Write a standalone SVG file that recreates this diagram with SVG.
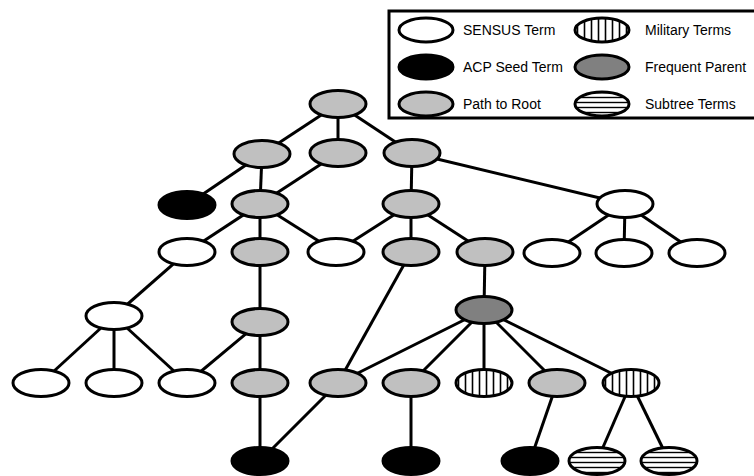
<svg xmlns="http://www.w3.org/2000/svg" width="754" height="476" viewBox="0 0 754 476">
  <defs>
    <pattern id="vhatch" patternUnits="userSpaceOnUse" width="7" height="10">
      <rect width="7" height="10" fill="#fff"/>
      <line x1="3.5" y1="0" x2="3.5" y2="10" stroke="#000" stroke-width="1.6"/>
    </pattern>
    <pattern id="hhatch" patternUnits="userSpaceOnUse" width="10" height="5">
      <rect width="10" height="5" fill="#fff"/>
      <line x1="0" y1="2.5" x2="10" y2="2.5" stroke="#000" stroke-width="1.4"/>
    </pattern>
  </defs>
  <style>
    .n ellipse { stroke: #000; stroke-width: 3; }
    .sensus { fill: #fff; }
    .seed { fill: #000; }
    .path { fill: #c0c0c0; }
    .freq { fill: #808080; }
    .mil { fill: url(#vhatch); }
    .sub { fill: url(#hhatch); }
    #edges line { stroke: #000; stroke-width: 3; }
    .lbl { font-family: "Liberation Sans", Arial, sans-serif; font-size: 14px; fill: #000; }
  </style>

  <!-- connectors, drawn beneath the nodes -->
  <g id="edges">
    <line x1="338" y1="104" x2="262" y2="154"/>
    <line x1="338" y1="104" x2="338" y2="153"/>
    <line x1="338" y1="104" x2="412" y2="153"/>
    <line x1="262" y1="154" x2="187" y2="205"/>
    <line x1="262" y1="154" x2="260" y2="204"/>
    <line x1="338" y1="153" x2="260" y2="204"/>
    <line x1="412" y1="153" x2="411" y2="204"/>
    <line x1="412" y1="153" x2="625" y2="204"/>
    <line x1="260" y1="204" x2="187" y2="252"/>
    <line x1="260" y1="204" x2="260" y2="252"/>
    <line x1="260" y1="204" x2="336" y2="252"/>
    <line x1="411" y1="204" x2="336" y2="252"/>
    <line x1="411" y1="204" x2="411" y2="252"/>
    <line x1="411" y1="204" x2="485" y2="252"/>
    <line x1="625" y1="204" x2="552" y2="253"/>
    <line x1="625" y1="204" x2="624" y2="253"/>
    <line x1="625" y1="204" x2="697" y2="253"/>
    <line x1="187" y1="252" x2="114" y2="316"/>
    <line x1="260" y1="252" x2="260" y2="322"/>
    <line x1="485" y1="252" x2="484" y2="310"/>
    <line x1="411" y1="252" x2="338" y2="383"/>
    <line x1="114" y1="316" x2="41" y2="383"/>
    <line x1="114" y1="316" x2="114" y2="383"/>
    <line x1="114" y1="316" x2="187" y2="383"/>
    <line x1="260" y1="322" x2="187" y2="383"/>
    <line x1="260" y1="322" x2="260" y2="383"/>
    <line x1="484" y1="310" x2="338" y2="383"/>
    <line x1="484" y1="310" x2="411" y2="383"/>
    <line x1="484" y1="310" x2="484" y2="383"/>
    <line x1="484" y1="310" x2="557" y2="383"/>
    <line x1="484" y1="310" x2="631" y2="383"/>
    <line x1="260" y1="383" x2="260" y2="461"/>
    <line x1="338" y1="383" x2="260" y2="461"/>
    <line x1="411" y1="383" x2="411" y2="461"/>
    <line x1="557" y1="383" x2="530" y2="461"/>
    <line x1="631" y1="383" x2="597" y2="461"/>
    <line x1="631" y1="383" x2="669" y2="461"/>
  </g>

  <!-- tree nodes -->
  <g id="root" class="n"><ellipse class="path" cx="338" cy="104" rx="28" ry="13.5"/></g>
  <g id="l1a" class="n"><ellipse class="path" cx="262" cy="154" rx="28" ry="13.5"/></g>
  <g id="l1b" class="n"><ellipse class="path" cx="338" cy="153" rx="28" ry="13.5"/></g>
  <g id="l1c" class="n"><ellipse class="path" cx="412" cy="153" rx="28" ry="13.5"/></g>
  <g id="l2a" class="n"><ellipse class="seed" cx="187" cy="205" rx="28" ry="13.5"/></g>
  <g id="l2b" class="n"><ellipse class="path" cx="260" cy="204" rx="28" ry="13.5"/></g>
  <g id="l2c" class="n"><ellipse class="path" cx="411" cy="204" rx="28" ry="13.5"/></g>
  <g id="l2d" class="n"><ellipse class="sensus" cx="625" cy="204" rx="28" ry="13.5"/></g>
  <g id="l3a" class="n"><ellipse class="sensus" cx="187" cy="252" rx="28" ry="13.5"/></g>
  <g id="l3b" class="n"><ellipse class="path" cx="260" cy="252" rx="28" ry="13.5"/></g>
  <g id="l3c" class="n"><ellipse class="sensus" cx="336" cy="252" rx="28" ry="13.5"/></g>
  <g id="l3d" class="n"><ellipse class="path" cx="411" cy="252" rx="28" ry="13.5"/></g>
  <g id="l3e" class="n"><ellipse class="path" cx="485" cy="252" rx="28" ry="13.5"/></g>
  <g id="l3f" class="n"><ellipse class="sensus" cx="552" cy="253" rx="28" ry="13.5"/></g>
  <g id="l3g" class="n"><ellipse class="sensus" cx="624" cy="253" rx="28" ry="13.5"/></g>
  <g id="l3h" class="n"><ellipse class="sensus" cx="697" cy="253" rx="28" ry="13.5"/></g>
  <g id="l4a" class="n"><ellipse class="sensus" cx="114" cy="316" rx="28" ry="13.5"/></g>
  <g id="l4b" class="n"><ellipse class="path" cx="260" cy="322" rx="28" ry="13.5"/></g>
  <g id="l4c" class="n"><ellipse class="freq" cx="484" cy="310" rx="28" ry="13.5"/></g>
  <g id="l5a" class="n"><ellipse class="sensus" cx="41" cy="383" rx="28" ry="13.5"/></g>
  <g id="l5b" class="n"><ellipse class="sensus" cx="114" cy="383" rx="28" ry="13.5"/></g>
  <g id="l5c" class="n"><ellipse class="sensus" cx="187" cy="383" rx="28" ry="13.5"/></g>
  <g id="l5d" class="n"><ellipse class="path" cx="260" cy="383" rx="28" ry="13.5"/></g>
  <g id="l5e" class="n"><ellipse class="path" cx="338" cy="383" rx="28" ry="13.5"/></g>
  <g id="l5f" class="n"><ellipse class="path" cx="411" cy="383" rx="28" ry="13.5"/></g>
  <g id="l5g" class="n"><ellipse class="mil" cx="484" cy="383" rx="28" ry="13.5"/></g>
  <g id="l5h" class="n"><ellipse class="path" cx="557" cy="383" rx="28" ry="13.5"/></g>
  <g id="l5i" class="n"><ellipse class="mil" cx="631" cy="383" rx="28" ry="13.5"/></g>
  <g id="l6a" class="n"><ellipse class="seed" cx="260" cy="461" rx="28" ry="13.5"/></g>
  <g id="l6b" class="n"><ellipse class="seed" cx="411" cy="461" rx="28" ry="13.5"/></g>
  <g id="l6c" class="n"><ellipse class="seed" cx="530" cy="461" rx="28" ry="13.5"/></g>
  <g id="l6d" class="n"><ellipse class="sub" cx="597" cy="461" rx="28" ry="13.5"/></g>
  <g id="l6e" class="n"><ellipse class="sub" cx="669" cy="461" rx="28" ry="13.5"/></g>

  <!-- legend -->
  <g id="legend">
    <rect x="389" y="11" width="368" height="107" fill="#fff" stroke="#000" stroke-width="3"/>
    <g class="n">
      <ellipse class="sensus" cx="426" cy="30" rx="27" ry="12"/>
      <ellipse class="seed" cx="426" cy="67" rx="27" ry="12"/>
      <ellipse class="path" cx="426" cy="104" rx="27" ry="12"/>
      <ellipse class="mil" cx="602" cy="30" rx="27" ry="12"/>
      <ellipse class="freq" cx="602" cy="67" rx="27" ry="12"/>
      <ellipse class="sub" cx="602" cy="104" rx="27" ry="12"/>
    </g>
    <text class="lbl" x="463" y="35">SENSUS Term</text>
    <text class="lbl" x="463" y="72">ACP Seed Term</text>
    <text class="lbl" x="463" y="109">Path to Root</text>
    <text class="lbl" x="645" y="35">Military Terms</text>
    <text class="lbl" x="645" y="72">Frequent Parent</text>
    <text class="lbl" x="645" y="109">Subtree Terms</text>
  </g>
</svg>
